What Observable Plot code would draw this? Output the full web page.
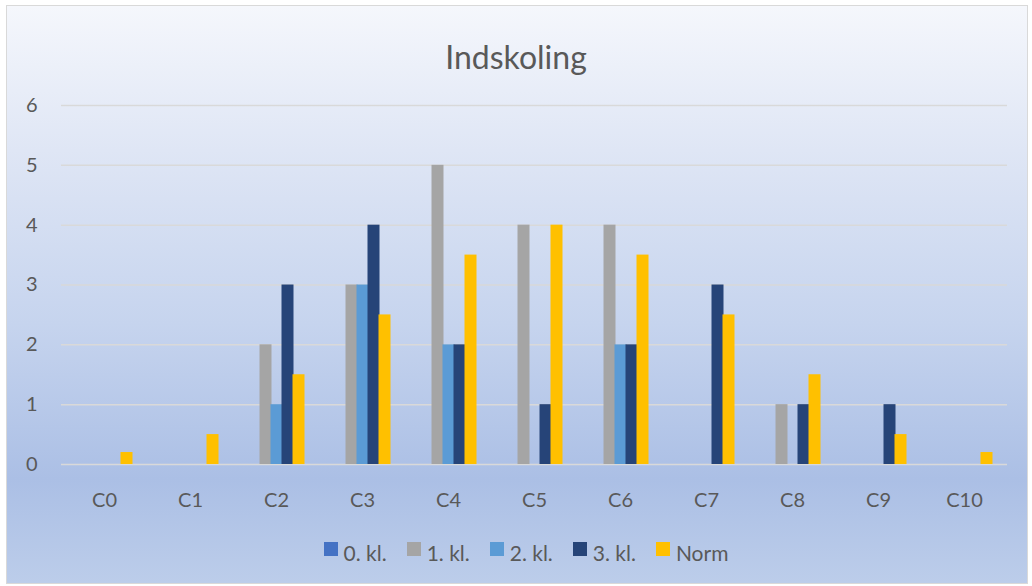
<!DOCTYPE html>
<html><head><meta charset="utf-8">
<script src="https://cdn.jsdelivr.net/npm/d3@7"></script>
<script src="https://cdn.jsdelivr.net/npm/@observablehq/plot@0.6"></script>
<style>
html,body{margin:0;padding:0;}
body{width:1032px;height:586px;overflow:hidden;position:relative;font-family:Lato,"Open Sans",sans-serif;color:#595959;}
#frame{position:absolute;left:6px;top:5px;width:1022px;height:579px;border:1px solid #d9d9d9;box-sizing:border-box;
 background:linear-gradient(to bottom,#f5f7fc 0%,#dfe6f5 25%,#c6d4ee 55%,#abbfe5 82%,#bccdea 100%);}
#wrap{position:relative;}
#title{height:90px;box-sizing:border-box;padding-top:39px;line-height:36px;font-size:32px;text-align:center;}
#chart svg{display:block;}
#legend{display:flex;justify-content:center;align-items:center;padding-top:20px;height:26px;line-height:26px;font-size:21px;padding-left:20px;}
.item{display:flex;align-items:center;margin:0 10px;}
.sw{width:14px;height:14px;margin-right:6px;position:relative;top:-4px;}
</style></head>
<body>
<div id="frame"></div>
<div id="wrap">
<div id="title">Indskoling</div>
<div id="chart"></div>
<div id="legend"></div>
</div>
<script>
const categories = ["C0","C1","C2","C3","C4","C5","C6","C7","C8","C9","C10"];
const series = ["0. kl.","1. kl.","2. kl.","3. kl.","Norm"];
const kl0 = [0,0,0,0,0,0,0,0,0,0,0];
const kl1 = [0,0,2,3,5,4,4,0,1,0,0];
const kl2 = [0,0,1,3,2,0,2,0,0,0,0];
const kl3 = [0,0,3,4,2,1,2,3,1,1,0];
const norm = [0.2,0.5,1.5,2.5,3.5,4,3.5,2.5,1.5,0.5,0.2];
const colors = ["#4472C4","#A5A5A5","#5B9BD5","#264478","#FFC000"];
const yTicks = [0,1,2,3,4,5,6];

const valuesBySeries = [kl0, kl1, kl2, kl3, norm];
const data = [];
categories.forEach((c, i) => {
  series.forEach((s, j) => data.push({cat: c, series: s, value: valuesBySeries[j][i]}));
});

const chart = Plot.plot({
  width: 1032, height: 430,
  marginLeft: 60, marginRight: 24, marginTop: 15, marginBottom: 56,
  style: {background: "transparent", fontFamily: "Lato, 'Open Sans', sans-serif", fontSize: "20px", color: "#595959"},
  fx: {domain: categories, padding: 0, label: null, axis: "bottom", tickSize: 0, tickPadding: 28},
  x: {domain: series, axis: null, paddingInner: 0, paddingOuter: 1.09},
  y: {domain: [0, 6], ticks: yTicks, tickFormat: "d", label: null, tickSize: 0, tickPadding: 24},
  color: {domain: series, range: colors},
  marks: [
    Plot.ruleY(yTicks, {stroke: "#d9d9d9", strokeWidth: 1.5}),
    Plot.barY(data, {fx: "cat", x: "series", y: "value", fill: "series", insetLeft: -0.5, insetRight: -0.5})
  ]
});
document.getElementById("chart").appendChild(chart);

const legend = document.getElementById("legend");
series.forEach((s, j) => {
  const it = document.createElement("div");
  it.className = "item";
  const sw = document.createElement("span");
  sw.className = "sw";
  sw.style.background = colors[j];
  const t = document.createElement("span");
  t.textContent = s;
  it.appendChild(sw); it.appendChild(t);
  legend.appendChild(it);
});
</script>
</body></html>
